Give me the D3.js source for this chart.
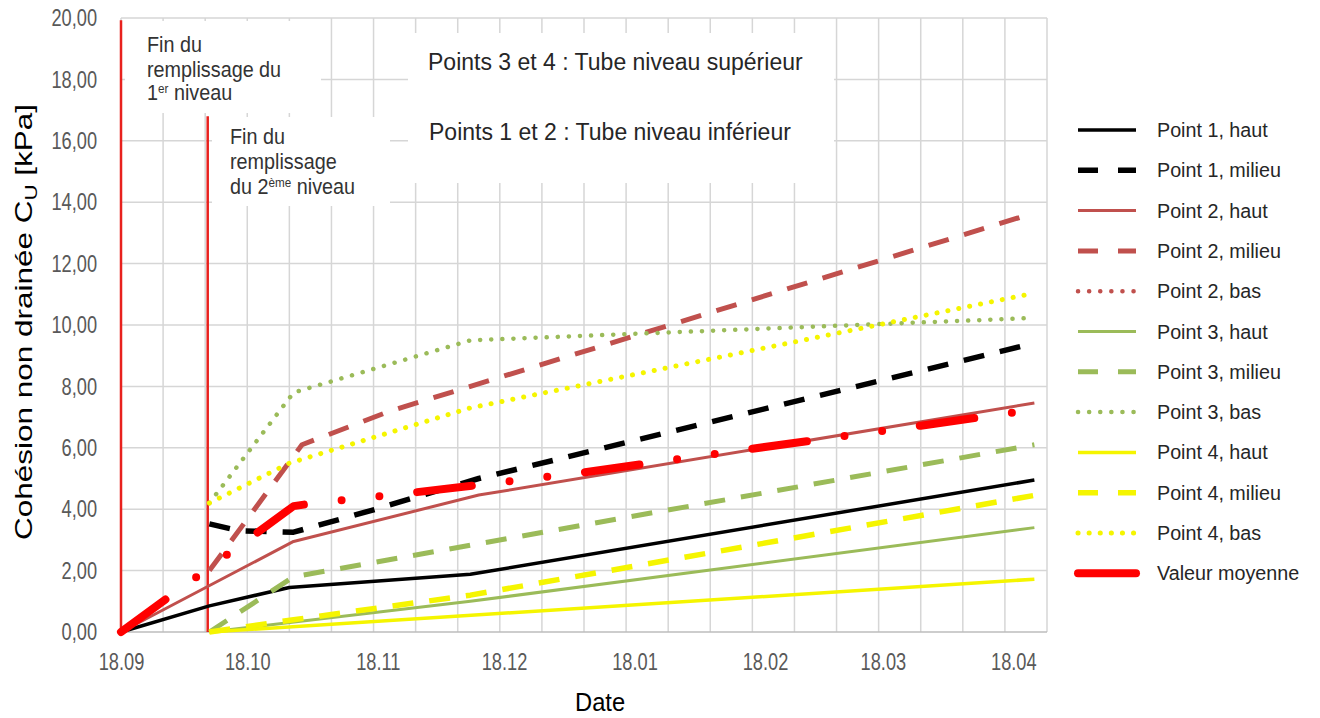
<!DOCTYPE html>
<html>
<head>
<meta charset="utf-8">
<script src="https://cdn.jsdelivr.net/npm/d3@7"></script>
<style>
  html, body { margin: 0; padding: 0; background: #fff; }
  svg { display: block; font-family: "Liberation Sans", Arial, sans-serif; }
</style>
</head>
<body>
<svg id="chart" width="1320" height="718"></svg>
<script>
// x = days since 18.09, y = cohésion non drainée [kPa]
const yTicks = [0, 2, 4, 6, 8, 10, 12, 14, 16, 18, 20];
const xTickDays = [0, 30, 61, 91, 122, 153, 181, 212];
const xTickLabels = ['18.09', '18.10', '18.11', '18.12', '18.01', '18.02', '18.03', '18.04'];

const seriesNames = [
  'Point 1, haut', 'Point 1, milieu',
  'Point 2, haut', 'Point 2, milieu', 'Point 2, bas',
  'Point 3, haut', 'Point 3, milieu', 'Point 3, bas',
  'Point 4, haut', 'Point 4, milieu', 'Point 4, bas',
  'Valeur moyenne'
];

const p1Haut = [[0, 0], [21, 0.85], [40, 1.45], [83, 1.88], [217, 4.95]];
const p1Milieu = [[21, 3.52], [28, 3.3], [41, 3.25], [60, 3.98], [85, 5.0], [217, 9.41]];
const p2Haut = [[0, 0], [41, 2.95], [85, 4.46], [217, 7.46]];
const p2Milieu = [[21, 2.0], [43, 6.1], [64, 7.2], [217, 13.65]];
const p2Bas = [];
const p3Haut = [[21, 0], [83, 1.0], [217, 3.4]];
const p3Milieu = [[21, 0], [41, 1.8], [217, 6.1]];
const p3Bas = [[21, 4.2], [41, 7.8], [83, 9.5], [217, 10.23]];
const p4Haut = [[21, 0], [217, 1.72]];
const p4Milieu = [[21, 0], [41, 0.4], [83, 1.2], [217, 4.45]];
const p4Bas = [[21, 4.2], [40, 5.5], [83, 7.3], [217, 11.04]];
const moyenne = [[0, 0], [41, 4.1], [46, 4.2], [70, 4.55], [110, 5.2], [150, 5.97], [190, 6.72], [217, 7.25]];

const seriesValues = [p1Haut, p1Milieu, p2Haut, p2Milieu, p2Bas, p3Haut, p3Milieu, p3Bas,
  p4Haut, p4Milieu, p4Bas, moyenne];

// end of filling: day, height of the red marker line
const fillEndDays = [0, 20.6];
const fillEndTops = [19.93, 16.8];

// line styles, same order as seriesNames
const DASH = '21,16', DOT = '0.1,11';
const styles = [
  { color: '#000000', w: 3.5 },
  { color: '#000000', w: 5.5, dash: DASH },
  { color: '#c0504d', w: 3 },
  { color: '#c0504d', w: 5, dash: DASH },
  { color: '#c0504d', w: 4.5, dash: DOT, round: true },
  { color: '#9bbb59', w: 3 },
  { color: '#9bbb59', w: 5, dash: DASH },
  { color: '#9bbb59', w: 4.5, dash: DOT, round: true },
  { color: '#f5f500', w: 3.5 },
  { color: '#f5f500', w: 5.5, dash: DASH },
  { color: '#f5f500', w: 5, dash: DOT, round: true },
  { color: '#ff0000', w: 8, dash: '55,38,0,38,0,38', round: true, legendSolid: true }
];

const margin = { top: 18, left: 121 };
const width = 926, height = 614;

const svg = d3.select('#chart');
const g = svg.append('g').attr('transform', `translate(${margin.left},${margin.top})`);

const x = d3.scaleLinear().domain([0, 220]).range([0, width]);
const y = d3.scaleLinear().domain([0, 20]).range([height, 0]);

// grid
g.append('g').selectAll('line')
  .data(d3.range(0, 221, 10))
  .enter().append('line')
  .attr('x1', d => x(d)).attr('x2', d => x(d))
  .attr('y1', 0).attr('y2', height)
  .attr('stroke', '#d6d6d6').attr('stroke-width', 1.5);

g.append('g').selectAll('line')
  .data(yTicks)
  .enter().append('line')
  .attr('x1', 0).attr('x2', width)
  .attr('y1', d => y(d)).attr('y2', d => y(d))
  .attr('stroke', d => d === 0 ? '#bdbdbd' : '#d6d6d6').attr('stroke-width', 1.5);

// axes labels
const fmt = d => d3.format('.2f')(d).replace('.', ',');
const yAxis = g.append('g')
  .call(d3.axisLeft(y).tickValues(yTicks).tickFormat(fmt).tickSize(0));
yAxis.select('.domain').remove();
yAxis.selectAll('text')
  .attr('x', -24 / 0.76)
  .attr('transform', 'scale(0.76,1)')
  .style('font-size', '24px')
  .style('font-family', '"Liberation Sans", Arial, sans-serif')
  .attr('fill', '#595959');

const xAxis = g.append('g')
  .attr('transform', `translate(0,${height})`)
  .call(d3.axisBottom(x).tickValues(xTickDays).tickFormat((d, i) => xTickLabels[i]).tickSize(0).tickPadding(21));
xAxis.select('.domain').remove();
xAxis.selectAll('text')
  .attr('transform', 'scale(0.76,1)')
  .style('font-size', '24px')
  .style('font-family', '"Liberation Sans", Arial, sans-serif')
  .attr('fill', '#595959');

// annotation boxes
const boxes = [
  { x0: 125, y0: 21, x1: 321, y1: 113 },
  { x0: 212, y0: 117, x1: 390, y1: 206 },
  { x0: 408, y0: 33, x1: 834, y1: 183 }
];
svg.append('g').selectAll('rect')
  .data(boxes)
  .enter().append('rect')
  .attr('x', d => d.x0).attr('y', d => d.y0)
  .attr('width', d => d.x1 - d.x0).attr('height', d => d.y1 - d.y0)
  .attr('fill', '#ffffff');

// end of filling markers
g.append('g').selectAll('line')
  .data(fillEndDays)
  .enter().append('line')
  .attr('x1', d => x(d)).attr('x2', d => x(d))
  .attr('y1', height).attr('y2', (d, i) => y(fillEndTops[i]))
  .attr('stroke', '#e8211d').attr('stroke-width', 2.5);

// series
const line = d3.line().x(d => x(d[0])).y(d => y(d[1]));
g.append('g').selectAll('path')
  .data(seriesValues)
  .enter().append('path')
  .attr('d', d => d.length ? line(d) : null)
  .attr('fill', 'none')
  .attr('stroke', (d, i) => styles[i].color)
  .attr('stroke-width', (d, i) => styles[i].w)
  .attr('stroke-dasharray', (d, i) => styles[i].dash || null)
  .attr('stroke-linecap', (d, i) => styles[i].round ? 'round' : 'butt')
  .attr('stroke-linejoin', 'round');

// annotation texts
function label(parent, tx, ty, size, sx, color) {
  return parent.append('text')
    .attr('transform', `translate(${tx},${ty}) scale(${sx},1)`)
    .style('font-size', size + 'px')
    .attr('fill', color);
}

const ann = svg.append('g');
label(ann, 147, 52, 22, 0.9, '#333').text('Fin du');
label(ann, 147, 77, 22, 0.9, '#333').text('remplissage du');
const t1 = label(ann, 147, 100, 22, 0.9, '#333');
t1.append('tspan').text('1');
t1.append('tspan').attr('dy', -7).style('font-size', '13px').text('er');
t1.append('tspan').attr('dy', 7).text(' niveau');

label(ann, 230, 144, 22, 0.9, '#333').text('Fin du');
label(ann, 230, 169, 22, 0.9, '#333').text('remplissage');
const t2 = label(ann, 230, 194, 22, 0.9, '#333');
t2.append('tspan').text('du 2');
t2.append('tspan').attr('dy', -7).style('font-size', '13px').text('ème');
t2.append('tspan').attr('dy', 7).text(' niveau');

label(ann, 428, 70, 23, 1, '#262626').text('Points 3 et 4 : Tube niveau supérieur');
label(ann, 429, 140, 23, 1, '#262626').text('Points 1 et 2 : Tube niveau inférieur');

// axis titles
label(svg, 575, 711, 25, 0.95, '#000').text('Date');

const yt = svg.append('text')
  .attr('transform', 'translate(32,322) rotate(-90)')
  .attr('text-anchor', 'middle')
  .attr('textLength', 436)
  .attr('lengthAdjust', 'spacingAndGlyphs')
  .style('font-size', '24px')
  .attr('fill', '#000');
yt.append('tspan').text('Cohésion non drainée C');
yt.append('tspan').attr('dy', 5).style('font-size', '17px').text('U');
yt.append('tspan').attr('dy', -5).text(' [kPa]');

// legend
const legend = svg.append('g');
const rows = legend.selectAll('g')
  .data(seriesNames)
  .enter().append('g')
  .attr('transform', (d, i) => `translate(1078,${130 + i * 40.3})`);

rows.append('line')
  .attr('x1', 0).attr('x2', 58).attr('y1', 0).attr('y2', 0)
  .attr('stroke', (d, i) => styles[i].color)
  .attr('stroke-width', (d, i) => styles[i].w)
  .attr('stroke-dasharray', (d, i) => styles[i].legendSolid ? null : (styles[i].dash === DASH ? '20,20' : styles[i].dash || null))
  .attr('stroke-linecap', (d, i) => styles[i].round ? 'round' : 'butt');

rows.append('text')
  .attr('transform', 'translate(79,7) scale(0.94,1)')
  .style('font-size', '21px')
  .attr('fill', '#262626')
  .text(d => d);
</script>
</body>
</html>
